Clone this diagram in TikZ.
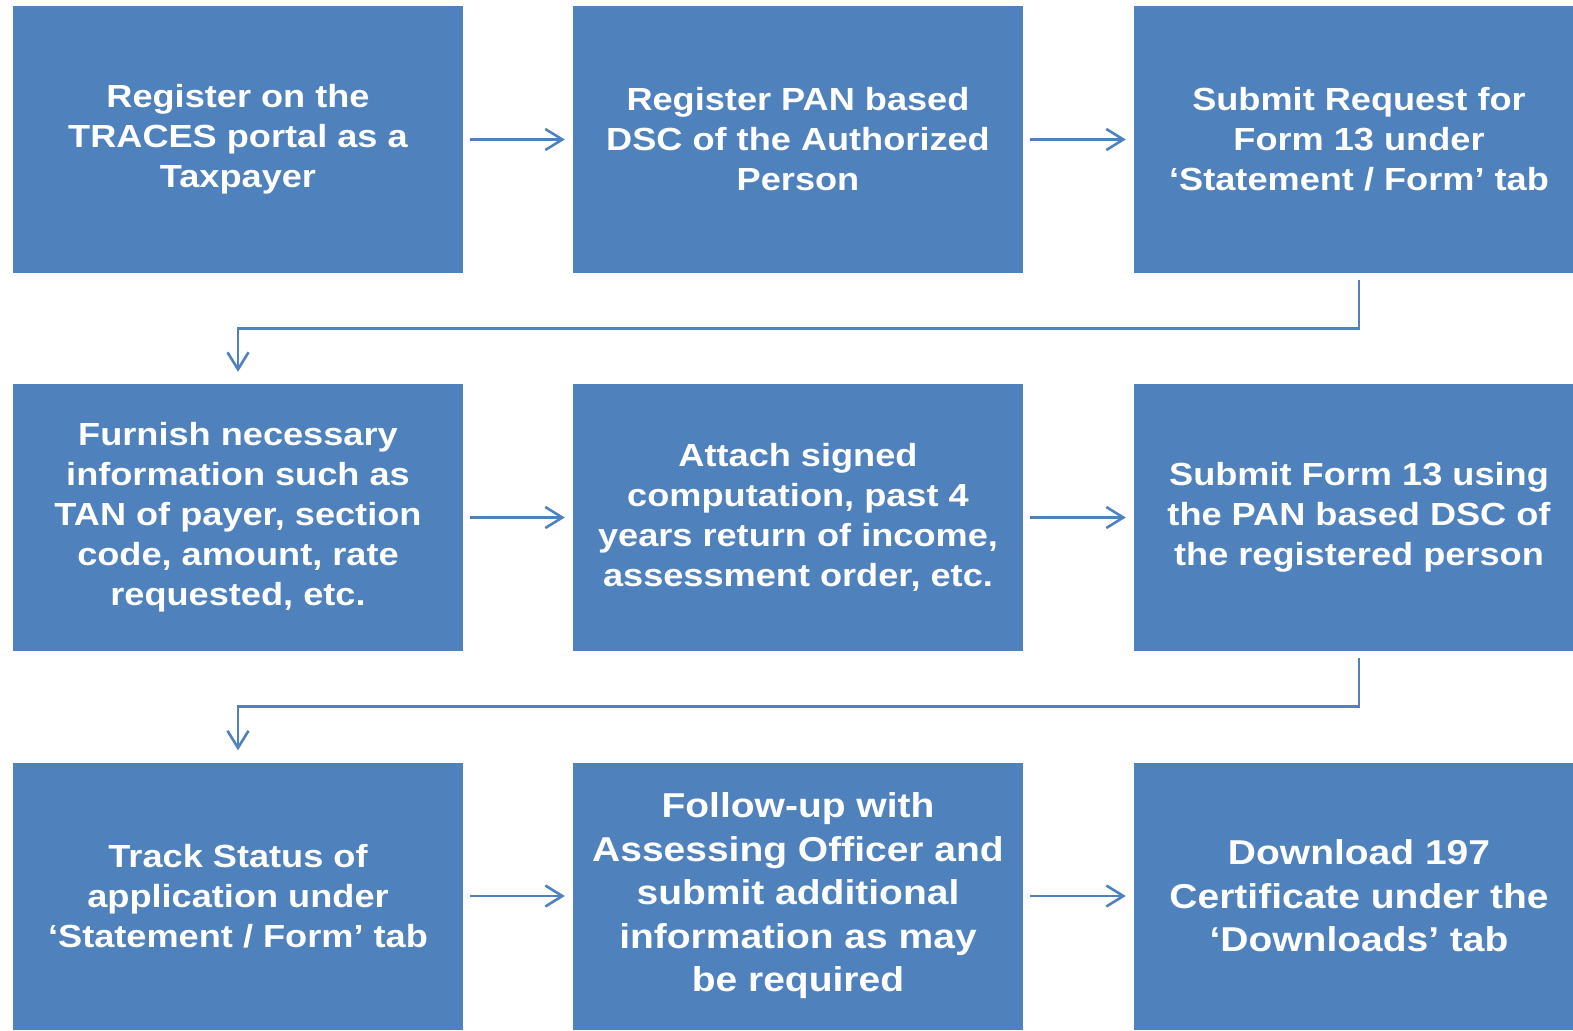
\documentclass[tikz,border=0pt]{standalone}
\usepackage{fontspec}
\setmainfont{Liberation Sans}[FakeStretch=1.13]
\usetikzlibrary{arrows.meta}
\definecolor{boxblue}{HTML}{4F81BD}
\begin{document}
\begin{tikzpicture}[x=1pt,y=-1pt,
  stepbox/.style={fill=boxblue, draw=none, minimum width=450pt, minimum height=267pt, inner sep=0pt,
    text=white, align=center, font=\fontsize{32}{40}\selectfont\bfseries},
  bigbox/.style={stepbox, font=\fontsize{34.5}{43.5}\selectfont\bfseries},
  flow/.style={draw=boxblue, line width=2.6pt, -{Straight Barb[length=17pt,width=21pt,line width=2.6pt]}},
  elbow/.style={flow, rounded corners=0pt}]
\useasboundingbox (0,0) rectangle (1573,1030);
\clip (0,0) rectangle (1573,1030);
\node[stepbox] (b1) at (238,139.5) {Register on the\\TRACES portal as a\\Taxpayer};
\node[stepbox] (b2) at (798,139.5) {Register PAN based\\DSC of the Authorized\\Person};
\node[stepbox] (b3) at (1359,139.5) {Submit Request for\\Form 13 under\\‘Statement / Form’ tab};
\node[stepbox] (b4) at (238,517.5) {Furnish necessary\\information such as\\TAN of payer, section\\code, amount, rate\\requested, etc.};
\node[stepbox] (b5) at (798,517.5) {Attach signed\\computation, past 4\\years return of income,\\assessment order, etc.};
\node[stepbox] (b6) at (1359,517.5) {Submit Form 13 using\\the PAN based DSC of\\the registered person};
\node[stepbox] (b7) at (238,896) {Track Status of\\application under\\‘Statement / Form’ tab};
\node[bigbox] (b8) at (798,896) {Follow-up with\\Assessing Officer and\\submit additional\\information as may\\be required};
\node[bigbox] (b9) at (1359,896) {Download 197\\Certificate under the\\‘Downloads’ tab};
\draw[flow, shorten <=7pt, shorten >=8pt] (b1) -- (b2);
\draw[flow, shorten <=7pt, shorten >=8pt] (b2) -- (b3);
\draw[flow, shorten <=7pt, shorten >=8pt] (b4) -- (b5);
\draw[flow, shorten <=7pt, shorten >=8pt] (b5) -- (b6);
\draw[flow, shorten <=7pt, shorten >=8pt] (b7) -- (b8);
\draw[flow, shorten <=7pt, shorten >=8pt] (b8) -- (b9);
\draw[elbow, shorten <=7pt, shorten >=12pt] (b3.south) -- ++(0,55) -| (b4.north);
\draw[elbow, shorten <=7pt, shorten >=12pt] (b6.south) -- ++(0,55) -| (b7.north);
\end{tikzpicture}
\end{document}
